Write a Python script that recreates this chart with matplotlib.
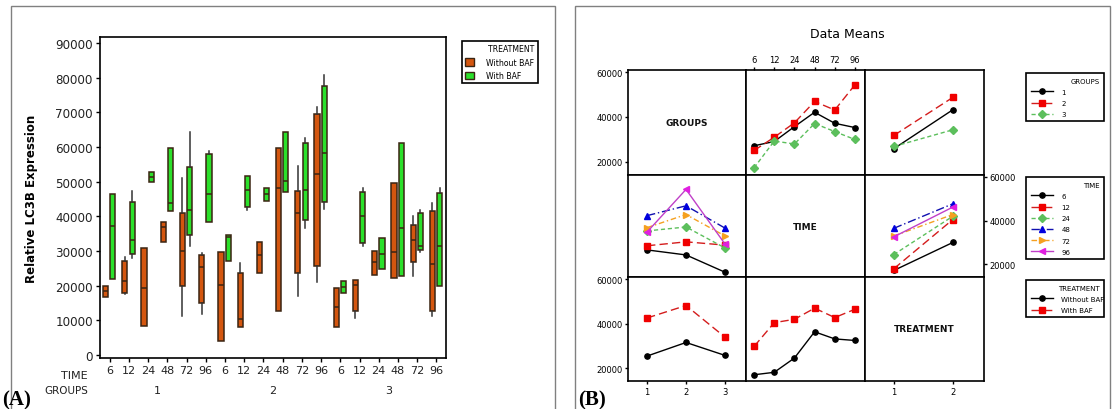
import matplotlib
matplotlib.use('Agg')
import matplotlib.pyplot as plt
from matplotlib.patches import Patch, Rectangle
from matplotlib.lines import Line2D
from matplotlib.transforms import blended_transform_factory

W, H = 1112, 410

# ---- panel A data: box stats per TIME x GROUPS cell ----
groups = ['1', '2', '3']
times = ['6', '12', '24', '48', '72', '96']

# Without BAF
wo_q1 = [16800, 17800, 8500, 32500, 19800, 15000,
         4100, 8000, 23700, 12800, 23600, 25600,
         8000, 12700, 23100, 22200, 26800, 12700]
wo_med = [18400, 21300, 19400, 36800, 30100, 25300,
          20200, 10400, 28700, 48200, 40900, 52200,
          13900, 20200, 26800, 29700, 33100, 26200]
wo_q3 = [19800, 27100, 30800, 38300, 40900, 28800,
         29600, 23600, 32500, 59700, 47300, 69500,
         19300, 21600, 30000, 49600, 37500, 41500]
wo_lo = [16800, 17600, 8500, 32500, 11300, 11800,
         4100, 8000, 23700, 12800, 17000, 21000,
         8000, 10700, 23100, 22200, 22800, 11200]
wo_hi = [19800, 28200, 30800, 38300, 51000, 29300,
         29600, 26400, 32500, 59700, 54500, 71500,
         19300, 21600, 30000, 49600, 40100, 43800]

# With BAF
wi_q1 = [21900, 29100, 50000, 41500, 34600, 38300,
         27000, 42600, 44300, 47000, 38900, 44100,
         17900, 32300, 24800, 22800, 30300, 19900]
wi_med = [37300, 33300, 51300, 43800, 41900, 46300,
          34000, 47700, 46400, 50100, 47600, 58200,
          19600, 40100, 29100, 36600, 31400, 31400]
wi_q3 = [46400, 44000, 52700, 59800, 54300, 58000,
         34500, 51700, 48100, 64300, 61100, 77500,
         21300, 47000, 33700, 61100, 40900, 46700]
wi_lo = [21900, 27900, 50000, 41500, 31500, 38300,
         27000, 41900, 44300, 47000, 36600, 42100,
         17900, 31400, 24800, 22800, 29700, 19900]
wi_hi = [46400, 47400, 52700, 59800, 64200, 58900,
         34500, 51700, 48100, 64300, 62500, 80700,
         21300, 48100, 33700, 61100, 41800, 48100]

# ---- panel B data: means ----
group_x = [1, 2, 3]
treat_x = [1, 2]
time_pos = list(range(len(times)))

# GROUPS vs TIME
g1_time = [27200, 29100, 35700, 42100, 37200, 35300]
g2_time = [25100, 31000, 37400, 46900, 43100, 54300]
g3_time = [17400, 29300, 28000, 37100, 33500, 30000]
# GROUPS vs TREATMENT
g1_treat = [25900, 43200]
g2_treat = [31800, 48700]
g3_treat = [26900, 34300]
# TIME vs GROUPS
t6_grp = [26600, 24300, 16400]
t12_grp = [28500, 30300, 28800]
t24_grp = [35300, 37100, 27500]
t48_grp = [42300, 46800, 36600]
t72_grp = [36800, 42800, 33000]
t96_grp = [34800, 54300, 29300]
# TIME vs TREATMENT
t6_treat = [17200, 30000]
t12_treat = [18000, 40500]
t24_treat = [24500, 42000]
t48_treat = [36500, 47700]
t72_treat = [33000, 42800]
t96_treat = [32600, 46200]
# TREATMENT vs GROUPS / TIME
wo_grp = [25400, 31500, 25700]
wi_grp = [42500, 48100, 33900]
wo_time = [17000, 18100, 24500, 36300, 33100, 32400]
wi_time = [29700, 40400, 41900, 46900, 42700, 46400]


def fbox(x0, y0, x1, y1):
    # pixel box (top-left origin) -> figure rect
    return [x0 / W, 1 - y1 / H, (x1 - x0) / W, (y1 - y0) / H]


fig = plt.figure(figsize=(W / 100, H / 100), dpi=100)

# outer frames
for x0, x1 in [(11, 555), (575, 1110)]:
    fig.patches.append(Rectangle((x0 / W, -0.05), (x1 - x0) / W, 1.05 - 7 / H,
                                 transform=fig.transFigure, fill=False,
                                 edgecolor='#808080', lw=1))

# ================= panel A =================
axA = fig.add_axes(fbox(100, 38, 446, 359))
orange = '#D4560F'
green = '#2BE02B'
edge = '#3a2412'


def make_stats(q1, med, q3, lo, hi):
    return [dict(q1=a, med=b, q3=c, whislo=d, whishi=e, fliers=[])
            for a, b, c, d, e in zip(q1, med, q3, lo, hi)]


n = len(groups) * len(times)
pos = list(range(n))
for stats, off, col in [(make_stats(wo_q1, wo_med, wo_q3, wo_lo, wo_hi), -0.21, orange),
                        (make_stats(wi_q1, wi_med, wi_q3, wi_lo, wi_hi), 0.17, green)]:
    axA.bxp(stats, positions=[p + off for p in pos], widths=0.27,
            patch_artist=True, showfliers=False, showcaps=False,
            boxprops=dict(facecolor=col, edgecolor=edge, lw=1.1),
            medianprops=dict(color=edge, lw=1.1),
            whiskerprops=dict(color='#333333', lw=1.1))

axA.set_xlim(-0.5, n - 0.5)
axA.set_ylim(-870, 91730)
axA.set_yticks(range(0, 90001, 10000))
axA.set_yticklabels([str(v) for v in range(0, 90001, 10000)], fontsize=8.6, color='#222222')
axA.set_xticks(pos)
axA.set_xticklabels(times * len(groups), fontsize=8, color='#222222')
axA.tick_params(length=3, width=1, direction='out', pad=2)
for s in axA.spines.values():
    s.set_linewidth(1.2)
axA.set_ylabel('Relative LC3B Expression', fontsize=8.5, fontweight='bold')
axA.yaxis.set_label_coords(-0.179, 0.5)

trA = blended_transform_factory(axA.transData, axA.transAxes)
for i, g in enumerate(groups):
    axA.text(i * len(times) + 2.5, -0.1, g, transform=trA, ha='center', va='center',
             fontsize=8, color='#222222')
fig.text(88 / W, 1 - 376 / H, 'TIME', ha='right', va='center', fontsize=8, color='#222222')
fig.text(88 / W, 1 - 391 / H, 'GROUPS', ha='right', va='center', fontsize=7.5, color='#222222')

legA = fig.legend(handles=[Patch(facecolor=orange, edgecolor=edge, label='Without BAF'),
                           Patch(facecolor=green, edgecolor=edge, label='With BAF')],
                  title='TREATMENT', loc='upper left',
                  bbox_to_anchor=(458 / W, 1 - 38 / H, 84 / W, 0.0), mode='expand',
                  fontsize=5.6, title_fontsize=5.6, fancybox=False, edgecolor='black',
                  framealpha=1, handlelength=1.1, handleheight=1.1, labelspacing=0.55,
                  borderpad=0.45, handletextpad=1.5, alignment='right')
legA.get_frame().set_linewidth(1.2)

fig.text(2 / W, 1 - 405 / H, '(A)', fontsize=15, fontweight='bold',
         family='Liberation Serif', va='baseline')

# ================= panel B =================
xs = [628, 746, 865, 984]
ys = [71, 176, 278, 382]
cells = [[fig.add_axes(fbox(xs[c], ys[r], xs[c + 1], ys[r + 1])) for c in range(3)]
         for r in range(3)]
xlims = [(0.51, 3.54), (-0.4, 5.5), (0.51, 2.53)]
ylim = (14200, 60900)
for r in range(3):
    for c in range(3):
        ax = cells[r][c]
        ax.set_xlim(*xlims[c])
        ax.set_ylim(*ylim)
        ax.set_xticks([])
        ax.set_yticks([])
        for s in ax.spines.values():
            s.set_linewidth(1.2)

s_blk = dict(color='black', ls='-', marker='o', ms=3.8)
s_red = dict(color='#d41c1c', ls=(0, (6, 3)), marker='s', ms=4.2, mfc='#f00000', mec='#f00000')
s_grn = dict(color='#5cbf5c', ls=(0, (3, 2)), marker='D', ms=3.8)
s_blu = dict(color='#1010b0', ls=(0, (6, 2, 1, 2)), marker='^', ms=4.5, mfc='#0000dd', mec='#0000dd')
s_org = dict(color='#f5a020', ls=(0, (4, 2, 1, 2)), marker='>', ms=4.5)
s_mag = dict(color='#c040c8', ls='-', marker='<', ms=4.5, mfc='#e020e0', mec='#e020e0')
grp_styles = [s_blk, s_red, s_grn]
time_styles = [s_blk, s_red, s_grn, s_blu, s_org, s_mag]
tr_styles = [s_blk, s_red]

# row 1: GROUPS
for ys_, st in zip([g1_time, g2_time, g3_time], grp_styles):
    cells[0][1].plot(time_pos, ys_, lw=1, **st)
for ys_, st in zip([g1_treat, g2_treat, g3_treat], grp_styles):
    cells[0][2].plot(treat_x, ys_, lw=1, **st)
# row 2: TIME
for ys_, st in zip([t6_grp, t12_grp, t24_grp, t48_grp, t72_grp, t96_grp], time_styles):
    cells[1][0].plot(group_x, ys_, lw=1, **st)
for ys_, st in zip([t6_treat, t12_treat, t24_treat, t48_treat, t72_treat, t96_treat], time_styles):
    cells[1][2].plot(treat_x, ys_, lw=1, **st)
# row 3: TREATMENT
for ys_, st in zip([wo_grp, wi_grp], tr_styles):
    cells[2][0].plot(group_x, ys_, lw=1, **st)
for ys_, st in zip([wo_time, wi_time], tr_styles):
    cells[2][1].plot(time_pos, ys_, lw=1, **st)

# diagonal names
for i, name in enumerate(['GROUPS', 'TIME', 'TREATMENT']):
    cells[i][i].text(0.5, 0.5, name, transform=cells[i][i].transAxes, ha='center',
                     va='center', fontsize=6.5, fontweight='bold', color='#111111')

yt = [20000, 40000, 60000]
ytl = [str(v) for v in yt]
tick_kw = dict(labelsize=6, length=2.5, width=1, direction='out', pad=1.5)
cells[0][0].set_yticks(yt)
cells[0][0].set_yticklabels(ytl)
cells[2][0].set_yticks(yt)
cells[2][0].set_yticklabels(ytl)
cells[1][2].set_yticks(yt)
cells[1][2].set_yticklabels(ytl)
cells[1][2].yaxis.tick_right()
cells[0][1].set_xticks(time_pos)
cells[0][1].set_xticklabels(times)
cells[0][1].xaxis.tick_top()
cells[2][0].set_xticks(group_x)
cells[2][0].set_xticklabels(groups)
cells[2][2].set_xticks(treat_x)
cells[2][2].set_xticklabels(['1', '2'])
for row in cells:
    for ax in row:
        ax.tick_params(**tick_kw)

fig.text(847 / W, 1 - 35 / H, 'Data Means', ha='center', va='center', fontsize=9)


def mk(st, label):
    return Line2D([], [], lw=1, label=label, **st)


leg_kw = dict(loc='upper left', mode='expand', fontsize=5, title_fontsize=5,
              fancybox=False, edgecolor='black', framealpha=1, handlelength=3.2,
              labelspacing=0.75, borderpad=0.6, handletextpad=1.2, alignment='right')
for top, title, labels, styles in [
        (71, 'GROUPS', groups, grp_styles),
        (175, 'TIME', times, time_styles),
        (278, 'TREATMENT', ['Without BAF', 'With BAF'], tr_styles)]:
    lg = fig.legend(handles=[mk(st, lb) for st, lb in zip(styles, labels)], title=title,
                    bbox_to_anchor=(1023 / W, 1 - top / H, 84 / W, 0.0), **leg_kw)
    lg.get_frame().set_linewidth(1.2)

fig.text(578 / W, 1 - 405 / H, '(B)', fontsize=15, fontweight='bold',
         family='Liberation Serif', va='baseline')

fig.savefig('out.png', dpi=100)
